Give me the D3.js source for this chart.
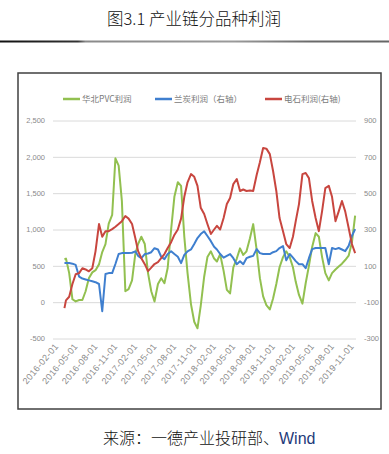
<!DOCTYPE html>
<html><head><meta charset="utf-8">
<script src="https://cdn.jsdelivr.net/npm/d3@7"></script>
<style>body{margin:0;background:#fff;} svg{display:block;}</style>
</head><body><svg id="c" width="389" height="454"></svg>
<script>
const titleText = "图3.1 产业链分品种利润";
const sourceText = "来源：一德产业投研部、";
const sourceTail = "Wind";
const seriesNames = ["华北PVC利润", "兰炭利润（右轴）", "电石利润(右轴)"];
const seriesColors = ["#92C050", "#3F7FCF", "#C8463F"];

const dates = [
"2016-03-25","2016-04-01","2016-04-16","2016-05-01","2016-05-16","2016-06-01","2016-06-16","2016-07-01","2016-07-16","2016-08-01",
"2016-08-16","2016-09-01","2016-09-16","2016-10-01","2016-10-16","2016-11-01","2016-11-16","2016-12-01","2016-12-16","2017-01-01",
"2017-01-16","2017-02-01","2017-02-16","2017-03-01","2017-03-16","2017-04-01","2017-04-16","2017-05-01","2017-05-16","2017-06-01",
"2017-06-16","2017-07-01","2017-07-16","2017-08-01","2017-08-16","2017-09-01","2017-09-16","2017-10-01","2017-10-16","2017-11-01",
"2017-11-16","2017-12-01","2017-12-16","2018-01-01","2018-01-16","2018-02-01","2018-02-16","2018-03-01","2018-03-16","2018-04-01",
"2018-04-16","2018-05-01","2018-05-16","2018-06-01","2018-06-16","2018-07-01","2018-07-16","2018-08-01","2018-08-16","2018-09-01",
"2018-09-16","2018-10-01","2018-10-16","2018-11-01","2018-11-16","2018-12-01","2018-12-16","2019-01-01","2019-01-16","2019-02-01",
"2019-02-16","2019-03-01","2019-03-16","2019-04-01","2019-04-16","2019-05-01","2019-05-16","2019-06-01","2019-06-16","2019-07-01",
"2019-07-16","2019-08-01","2019-08-16","2019-09-01","2019-09-16","2019-10-01","2019-10-16","2019-11-01","2019-11-16","2019-12-01"];

const pvcProfit = [
590,600,400,40,10,30,30,150,330,410,
440,520,690,800,1080,1200,1980,1880,1390,150,
180,300,660,800,900,800,400,150,10,250,
330,260,470,1000,1450,1650,1600,900,400,-30,
-270,-360,-50,350,620,700,600,560,660,430,
170,120,480,600,740,650,700,880,1074,720,
330,80,-40,-100,50,250,480,620,700,620,
480,280,100,-20,260,500,760,950,900,620,
400,300,400,450,490,530,580,640,820,1190];

const lantanProfit = [
115,115,115,112,105,40,30,25,20,15,
10,0,-150,55,60,60,110,165,170,170,
170,172,180,155,142,165,168,175,197,190,
150,137,165,180,165,150,115,160,180,190,
220,253,275,290,264,236,205,190,165,145,
155,165,142,109,125,109,142,150,155,192,
170,165,165,165,175,181,198,209,130,165,
145,126,109,109,87,142,192,198,198,198,
198,109,198,192,198,190,181,210,264,302];

const dianshiProfit = [
-133,-90,-70,0,54,60,87,80,70,87,
181,330,260,291,291,302,315,330,346,374,
360,330,253,181,142,109,71,90,110,120,
142,165,198,230,270,300,360,480,560,605,
590,540,420,385,330,275,300,320,300,363,
440,473,550,578,512,520,512,515,512,600,
670,749,745,715,622,512,363,291,220,198,
260,346,440,605,611,583,457,363,291,401,
528,540,480,346,400,457,400,308,220,170];

const xTickDates = ["2016-02-01","2016-05-01","2016-08-01","2016-11-01","2017-02-01","2017-05-01","2017-08-01","2017-11-01",
"2018-02-01","2018-05-01","2018-08-01","2018-11-01","2019-02-01","2019-05-01","2019-08-01","2019-11-01"];
const leftTicks = [-500, 0, 500, 1000, 1500, 2000, 2500];
const leftTickLabels = ["-500", "0", "500", "1,000", "1,500", "2,000", "2,500"];
const rightTicks = [-300, -100, 100, 300, 500, 700, 900];
const rightTickLabels = ["-300", "-100", "100", "300", "500", "700", "900"];
const xDomain = ["2016-02-01", "2019-12-05"];

const svg = d3.select("#c");
const parse = d3.utcParse("%Y-%m-%d");
const plotLeft = 53, plotRight = 356, plotTop = 120.5, plotBottom = 338.5;

svg.append("text").attr("x", 194).attr("y", 25).attr("text-anchor", "middle")
  .attr("font-family", "'Noto Sans CJK SC', sans-serif").attr("font-size", 16.5).attr("font-weight", 300).attr("fill", "#111")
  .text(titleText);

const grad = svg.append("defs").append("linearGradient").attr("id", "sep");
grad.append("stop").attr("offset", "0%").attr("stop-color", "#111");
grad.append("stop").attr("offset", "20%").attr("stop-color", "#333");
grad.append("stop").attr("offset", "22%").attr("stop-color", "#8a8a8a");
grad.append("stop").attr("offset", "60%").attr("stop-color", "#9a9a9a");
grad.append("stop").attr("offset", "80%").attr("stop-color", "#6a6a6a");
grad.append("stop").attr("offset", "100%").attr("stop-color", "#666");
svg.append("rect").attr("x", 0).attr("y", 40.5).attr("width", 389).attr("height", 2).attr("fill", "url(#sep)");

svg.append("rect").attr("x", 18).attr("y", 73).attr("width", 363).attr("height", 336)
  .attr("fill", "none").attr("stroke", "#404040").attr("stroke-width", 1.5);

const x = d3.scaleUtc().domain(xDomain.map(parse)).range([plotLeft, plotRight]);
const yL = d3.scaleLinear().domain([-500, 2500]).range([plotBottom, plotTop]);
const yR = d3.scaleLinear().domain([-300, 900]).range([plotBottom, plotTop]);

const axisFont = "'Liberation Sans', Arial, sans-serif";
const axisColor = "#8a8a8a";

svg.append("g").attr("transform", `translate(${plotLeft},0)`)
  .call(d3.axisLeft(yL).tickValues(leftTicks).tickSize(-(plotRight - plotLeft)).tickFormat(""))
  .call(g => g.select(".domain").remove())
  .call(g => g.selectAll("line").attr("stroke", "#dadada").attr("stroke-width", 1));

svg.append("g").attr("transform", `translate(45,0)`)
  .call(d3.axisLeft(yL).tickValues(leftTicks).tickSize(0).tickPadding(0)
    .tickFormat((d, i) => leftTickLabels[i]))
  .call(g => g.select(".domain").remove())
  .call(g => g.selectAll("text").attr("font-family", axisFont).attr("font-size", 7.5).attr("fill", axisColor));

svg.append("g").attr("transform", `translate(364,0)`)
  .call(d3.axisRight(yR).tickValues(rightTicks).tickSize(0).tickPadding(0)
    .tickFormat((d, i) => rightTickLabels[i]))
  .call(g => g.select(".domain").remove())
  .call(g => g.selectAll("text").attr("font-family", axisFont).attr("font-size", 7.5).attr("fill", axisColor));

svg.append("g").attr("transform", `translate(3,${plotBottom + 6})`)
  .call(d3.axisBottom(x).tickValues(xTickDates.map(parse)).tickSize(0).tickPadding(0)
    .tickFormat(d3.utcFormat("%Y-%m-%d")))
  .call(g => g.select(".domain").remove())
  .call(g => g.selectAll("text").attr("font-family", axisFont).attr("font-size", 9).attr("fill", axisColor)
    .attr("letter-spacing", 0.4)
    .attr("text-anchor", "end").attr("dy", "0.35em").attr("transform", "rotate(-50)"));

const parsedDates = dates.map(parse);
const series = [
  {vals: pvcProfit, y: yL, color: seriesColors[0]},
  {vals: lantanProfit, y: yR, color: seriesColors[1]},
  {vals: dianshiProfit, y: yR, color: seriesColors[2]}
];
series.forEach(s => {
  const line = d3.line().x((d, i) => x(parsedDates[i])).y(d => s.y(d));
  svg.append("path").datum(s.vals).attr("d", line).attr("fill", "none")
    .attr("stroke", s.color).attr("stroke-width", 2).attr("stroke-linejoin", "round");
});

const legendX = [63, 155, 265];
const lg = svg.append("g");
seriesNames.forEach((n, i) => {
  lg.append("line").attr("x1", legendX[i]).attr("x2", legendX[i] + 17).attr("y1", 99).attr("y2", 99)
    .attr("stroke", seriesColors[i]).attr("stroke-width", 2.5);
  lg.append("text").attr("x", legendX[i] + 19).attr("y", 102)
    .attr("font-family", "'Noto Sans CJK SC', sans-serif").attr("font-size", 8.5).attr("fill", "#7a7a7a").text(n);
});

const src = svg.append("text").attr("x", 103).attr("y", 444)
  .attr("font-family", "'Noto Sans CJK SC', sans-serif").attr("font-size", 16).attr("font-weight", 300).attr("fill", "#111");
src.append("tspan").text(sourceText);
src.append("tspan").attr("font-family", "'Liberation Sans', Arial, sans-serif").attr("fill", "#1f3a7a").text(sourceTail);
</script></body></html>
